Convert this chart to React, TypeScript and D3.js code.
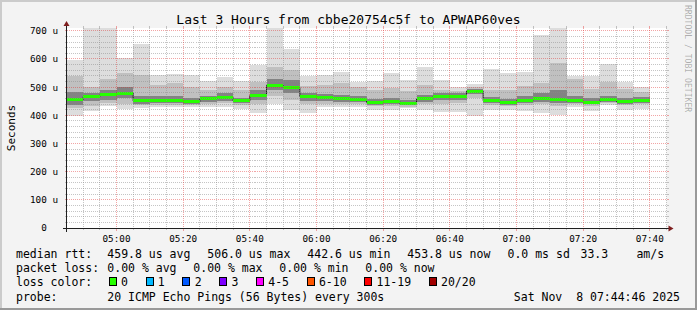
import React from 'react';
import * as d3 from 'd3';

// ---------- data ----------
const TITLE = 'Last 3 Hours from cbbe20754c5f to APWAP60ves';

const binStarts = [
  '04:45', '04:50', '04:55', '05:00', '05:05', '05:10', '05:15', '05:20', '05:25', '05:30',
  '05:35', '05:40', '05:45', '05:50', '05:55', '06:00', '06:05', '06:10', '06:15', '06:20',
  '06:25', '06:30', '06:35', '06:40', '06:45', '06:50', '06:55', '07:00', '07:05', '07:10',
  '07:15', '07:20', '07:25', '07:30', '07:35',
];

// microseconds
const pingMax = [597, 720, 720, 603, 654, 544, 547, 544, 522, 537, 522, 579, 720, 636, 538, 544, 555, 520, 522, 552, 526, 573, 526, 502, 510, 565, 552, 555, 686, 720, 538, 538, 581, 520, 502];
const smokeHi = [538, 502, 530, 550, 544, 508, 514, 502, 490, 502, 490, 520, 573, 561, 505, 508, 514, 500, 490, 496, 485, 508, 490, 485, 500, 490, 490, 504, 514, 585, 528, 495, 520, 495, 484];
const darkHi = [484, 480, 490, 502, 470, 470, 468, 462, 470, 478, 462, 490, 530, 525, 480, 475, 472, 468, 458, 462, 455, 472, 478, 478, 495, 465, 458, 470, 478, 490, 470, 460, 468, 462, 466];
const medianRtt = [456, 466, 474, 479, 451, 454, 452, 448, 458, 463, 451, 470, 506, 499, 466, 462, 459, 455, 445, 449, 442.6, 458, 467, 467, 486, 452, 445, 452, 458, 456, 451, 447, 455, 449, 453.8];
const darkLo = [437, 450, 455, 460, 440, 444, 442, 440, 448, 452, 442, 455, 490, 480, 452, 450, 448, 446, 438, 440, 435, 448, 455, 455, 476, 442, 438, 444, 446, 445, 443, 440, 446, 440, 444];
const smokeLo = [425, 432, 445, 440, 435, 438, 438, 436, 440, 442, 436, 440, 470, 455, 440, 440, 440, 440, 432, 432, 430, 440, 440, 445, 460, 437, 432, 438, 440, 432, 440, 432, 442, 435, 440];
const pingMin = [399, 417, 433, 423, 425, 430, 430, 428, 428, 430, 423, 410, 441, 419, 407, 431, 431, 428, 419, 419, 425, 419, 413, 411, 396, 420, 419, 416, 407, 400, 431, 414, 437, 419, 423];

const xTickLabels = ['05:00', '05:20', '05:40', '06:00', '06:20', '06:40', '07:00', '07:20', '07:40'];
const yTickValues = [0, 100, 200, 300, 400, 500, 600, 700];

const rttLegend = ['459.8 us avg', '506.0 us max', '442.6 us min', '453.8 us now'];
const rttExtra = ['0.0 ms sd', '33.3', 'am/s'];
const lossLegend = ['0.00 % avg', '0.00 % max', '0.00 % min', '0.00 % now'];
const lossColorLabels = ['0', '1', '2', '3', '4-5', '6-10', '11-19', '20/20'];
const lossColors = ['#26ff00', '#00b8ff', '#0059ff', '#7e00ff', '#ff00ff', '#ff5500', '#ff0000', '#a10000'];
const probeText = '20 ICMP Echo Pings (56 Bytes) every 300s';
const dateText = 'Sat Nov  8 07:44:46 2025';

// ---------- chart ----------
const parse = d3.timeParse('%H:%M');
const MONO = '"DejaVu Sans Mono", monospace';

export default function App() {
  const W = 697;
  const H = 310;
  const X0 = 66.5;
  const X1 = 666.5;
  const Y0 = 228;
  const Y1 = 28;
  const tStart = parse('04:45') as Date;
  const tEnd = parse('07:45') as Date;
  const x = d3.scaleTime().domain([tStart, tEnd]).range([X0, X1]);
  const y = d3.scaleLinear().domain([0, 710]).range([Y0, Y1]);
  const stepMs = 5 * 60 * 1000;

  const bars = binStarts.map((s, i) => {
    const t0 = parse(s) as Date;
    const t1 = new Date(+t0 + stepMs);
    return { i, t0, t1, x0: x(t0), x1: x(t1) };
  });

  const layers: [number[], number[], string][] = [
    [pingMin, pingMax, '#dddddd'],
    [smokeLo, smokeHi, '#c0c0c0'],
    [darkLo, darkHi, '#838383'],
  ];

  const stepPts: [number, number][] = bars.map((b) => [b.x0, y(medianRtt[b.i])]);
  stepPts.push([bars[bars.length - 1].x1, y(medianRtt[medianRtt.length - 1])]);
  const stepLine = d3.line().curve(d3.curveStepAfter)(stepPts) || '';

  const crisp = (v: number) => Math.floor(v) + 0.5;

  const minorX = x.ticks(d3.timeMinute.every(5) as any).filter((t) => +t > +tStart && (t as Date).getMinutes() % 20 !== 0);
  const majorX = x.ticks(d3.timeMinute.every(20) as any).filter((t) => +t > +tStart);
  const minorY = d3.range(20, 711, 20).filter((v) => v % 100 !== 0);
  const majorY = yTickValues.filter((v) => v > 0);

  const gridCol = 'rgba(140,140,140,0.5)';
  const mgridCol = 'rgba(225,40,40,0.42)';

  // loss color legend layout
  const charW = 6.92;
  let bx = 108.7;
  const lossItems = lossColorLabels.map((lab, i) => {
    const item = { lab, col: lossColors[i], bx, tx: bx + 12.3 };
    bx = bx + 12.3 + lab.length * charW + 17.6;
    return item;
  });

  const rttX = [107.3, 207.3, 307.3, 407.3];
  const rttExtraX = [507.5, 580.5, 636.4];
  const lossX = [107.3, 193.3, 279.3, 365.3];

  return (
    <svg width={W} height={H} style={{ position: 'absolute', left: 0, top: 0, display: 'block' }}
      fontFamily={MONO}>
      <defs>
        <clipPath id="plotclip">
          <rect x={X0} y={Y1} width={X1 - X0} height={Y0 - Y1} />
        </clipPath>
      </defs>
      <rect x={0} y={0} width={W} height={H} fill="#f3f3f3" />
      <rect x={0} y={0} width={W} height={2} fill="#cbcbcb" />
      <rect x={0} y={0} width={2} height={H} fill="#cbcbcb" />
      <rect x={0} y={H - 2} width={W} height={2} fill="#999999" />
      <rect x={W - 2} y={0} width={2} height={H} fill="#999999" />
      <rect x={X0} y={Y1} width={X1 - X0} height={Y0 - Y1} fill="#ffffff" />

      <g clipPath="url(#plotclip)" shapeRendering="crispEdges">
        {layers.map(([lo, hi, col], li) => (
          <g key={li}>
            {bars.map((b) => (
              <rect key={b.i} x={b.x0} width={b.x1 - b.x0} y={y(hi[b.i])}
                height={y(lo[b.i]) - y(hi[b.i])} fill={col} />
            ))}
          </g>
        ))}
      </g>
      <g clipPath="url(#plotclip)">
        <path d={stepLine} fill="none" stroke="#202020" strokeWidth={1} />
        {bars.map((b) => (
          <rect key={b.i} x={b.x0} width={b.x1 - b.x0} y={y(medianRtt[b.i]) - 1.5} height={3}
            fill={lossColors[0]} shapeRendering="crispEdges" />
        ))}
      </g>

      {/* grid */}
      <g strokeWidth={1} strokeDasharray="1,1" shapeRendering="crispEdges">
        {minorY.map((v) => (
          <line key={'my' + v} x1={X0} x2={X1} y1={crisp(y(v))} y2={crisp(y(v))} stroke={gridCol} />
        ))}
        {minorX.map((t, i) => (
          <line key={'mx' + i} x1={crisp(x(t))} x2={crisp(x(t))} y1={Y1} y2={Y0} stroke={gridCol} />
        ))}
        {majorY.map((v) => (
          <line key={'My' + v} x1={X0} x2={X1} y1={crisp(y(v))} y2={crisp(y(v))} stroke={mgridCol} />
        ))}
        {majorX.map((t, i) => (
          <line key={'Mx' + i} x1={crisp(x(t))} x2={crisp(x(t))} y1={Y1} y2={Y0} stroke={mgridCol} />
        ))}
      </g>
      {/* small ticks */}
      <g strokeWidth={1} shapeRendering="crispEdges">
        {minorY.map((v) => (
          <g key={'ty' + v}>
            <line x1={X0 - 2} x2={X0} y1={crisp(y(v))} y2={crisp(y(v))} stroke={gridCol} />
            <line x1={X1} x2={X1 + 2} y1={crisp(y(v))} y2={crisp(y(v))} stroke={gridCol} />
          </g>
        ))}
        {majorY.map((v) => (
          <g key={'tY' + v}>
            <line x1={X0 - 2} x2={X0} y1={crisp(y(v))} y2={crisp(y(v))} stroke={mgridCol} />
            <line x1={X1} x2={X1 + 2} y1={crisp(y(v))} y2={crisp(y(v))} stroke={mgridCol} />
          </g>
        ))}
        {minorX.map((t, i) => (
          <g key={'tx' + i}>
            <line x1={crisp(x(t))} x2={crisp(x(t))} y1={Y0} y2={Y0 + 2} stroke={gridCol} />
            <line x1={crisp(x(t))} x2={crisp(x(t))} y1={Y1 - 2} y2={Y1} stroke={gridCol} />
          </g>
        ))}
        {majorX.map((t, i) => (
          <g key={'tX' + i}>
            <line x1={crisp(x(t))} x2={crisp(x(t))} y1={Y0} y2={Y0 + 3} stroke={mgridCol} />
            <line x1={crisp(x(t))} x2={crisp(x(t))} y1={Y1 - 2} y2={Y1} stroke={mgridCol} />
          </g>
        ))}
      </g>

      {/* axes */}
      <g stroke="#1f1f1f" strokeWidth={1} shapeRendering="crispEdges">
        <line x1={X0 - 4} x2={X1 + 4} y1={Y0 + 0.5} y2={Y0 + 0.5} />
        <line x1={X0} x2={X0} y1={Y0 + 4} y2={Y1 - 4} />
      </g>
      <path d={`M${X1 + 2},${Y0 + 0.5 - 3}L${X1 + 2},${Y0 + 0.5 + 3}L${X1 + 7},${Y0 + 0.5}Z`} fill="#7f1f1f" />
      <path d={`M${X0 - 3},${Y1 - 2}L${X0 + 3},${Y1 - 2}L${X0},${Y1 - 7}Z`} fill="#7f1f1f" />

      {/* title */}
      <text x={348.5} y={24} fontSize={13} textAnchor="middle" fill="#000">{TITLE}</text>

      {/* y labels */}
      {yTickValues.map((v) => (
        <text key={'yl' + v} x={58} y={y(v) + 3.4} fontSize={9.3} textAnchor="end" fill="#000"
          xmlSpace="preserve">{v === 0 ? '0  ' : `${v} u`}</text>
      ))}
      <text transform={`translate(15,128) rotate(-90)`} fontSize={11} textAnchor="middle" fill="#000">Seconds</text>

      {/* x labels */}
      {xTickLabels.map((lab) => {
        const t = parse(lab) as Date;
        return (
          <text key={'xl' + lab} x={x(t)} y={241.5} fontSize={9.3} textAnchor="middle" fill="#000">{lab}</text>
        );
      })}

      {/* watermark */}
      <text transform="translate(685,5) rotate(90)" fontSize={8.1} fill="#000" fillOpacity={0.3}>RRDTOOL / TOBI OETIKER</text>

      {/* legend */}
      <g fontSize={11.5} fill="#000">
        <text x={16} y={258.3}>median rtt:</text>
        {rttLegend.map((s, i) => <text key={'r' + i} x={rttX[i]} y={258.3}>{s}</text>)}
        {rttExtra.map((s, i) => <text key={'re' + i} x={rttExtraX[i]} y={258.3}>{s}</text>)}
        <text x={16} y={272.3}>packet loss:</text>
        {lossLegend.map((s, i) => <text key={'l' + i} x={lossX[i]} y={272.3}>{s}</text>)}
        <text x={16} y={286.2}>loss color:</text>
        {lossItems.map((it, i) => (
          <g key={'lc' + i}>
            <rect x={Math.round(it.bx) + 0.5} y={277.5} width={7} height={8} fill={it.col} stroke="#000" strokeWidth={1} />
            <text x={it.tx} y={286.2}>{it.lab}</text>
          </g>
        ))}
        <text x={16} y={300.6}>probe:</text>
        <text x={107.3} y={300.6}>{probeText}</text>
        <text x={680} y={300.6} textAnchor="end" xmlSpace="preserve">{dateText}</text>
      </g>
    </svg>
  );
}
